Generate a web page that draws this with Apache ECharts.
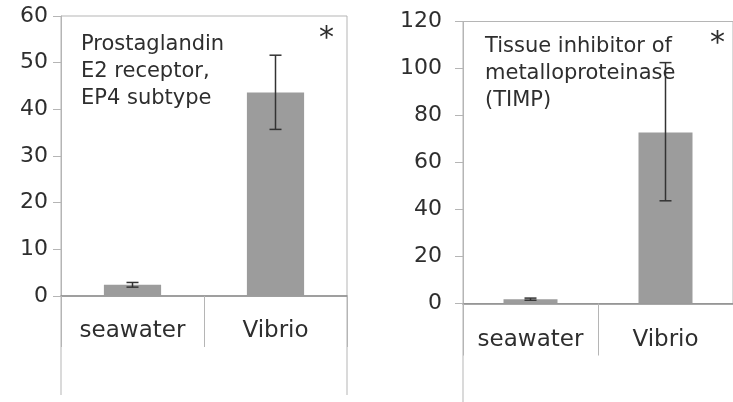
<!DOCTYPE html>
<html>
<head>
<meta charset="utf-8">
<script src="https://cdn.jsdelivr.net/npm/echarts@6/dist/echarts.min.js"></script>
<style>
  html, body { margin: 0; padding: 0; background: #fff; }
  #chart { width: 733px; height: 402px; }
</style>
</head>
<body>
<div id="chart"></div>
<script>
const categories = ['seawater', 'Vibrio']

// left panel: Prostaglandin E2 receptor, EP4 subtype
const ep4Means = [2.4, 43.6]
const ep4Low = [1.9, 35.7]
const ep4High = [2.9, 51.6]

// right panel: TIMP
const timpMeans = [1.8, 72.8]
const timpLow = [1.4, 43.7]
const timpHigh = [2.3, 102.5]

const ep4Ticks = { max: 60, interval: 10 }
const timpTicks = { max: 120, interval: 20 }

const chart = echarts.init(document.getElementById('chart'))

const g1 = { left: 61, top: 16, width: 286, height: 280 }
const g2 = { left: 463, top: 21.5, width: 277, height: 282 }

const FONT = 'DejaVu Sans'
const lineCol = '#b5b5b5'
const textCol = '#2e2e2e'

const errorSeries = (idx, low, high) => ({
  type: 'custom',
  xAxisIndex: idx,
  yAxisIndex: idx,
  data: categories.map((c, i) => [i, low[i], high[i]]),
  renderItem: (params, api) => {
    const lo = api.coord([api.value(0), api.value(1)])
    const hi = api.coord([api.value(0), api.value(2)])
    const w = 6
    const style = { stroke: '#333', lineWidth: 1.5 }
    return {
      type: 'group',
      children: [
        { type: 'line', shape: { x1: lo[0], y1: lo[1], x2: hi[0], y2: hi[1] }, style },
        { type: 'line', shape: { x1: hi[0] - w, y1: hi[1], x2: hi[0] + w, y2: hi[1] }, style },
        { type: 'line', shape: { x1: lo[0] - w, y1: lo[1], x2: lo[0] + w, y2: lo[1] }, style }
      ]
    }
  },
  z: 5
})

const xAxisFor = (idx, margin, tickLen) => ({
  type: 'category',
  gridIndex: idx,
  data: categories,
  axisLine: { lineStyle: { color: '#8c8c8c', width: 1.5 } },
  axisTick: { show: true, interval: 0, length: tickLen, lineStyle: { color: lineCol } },
  axisLabel: { interval: 0, hideOverlap: false, color: textCol, fontSize: 23, fontFamily: FONT, margin: margin }
})

const yAxisFor = (idx, ticks, margin) => ({
  type: 'value',
  gridIndex: idx,
  min: 0,
  max: ticks.max,
  interval: ticks.interval,
  axisLine: { show: true, lineStyle: { color: lineCol } },
  axisTick: { show: true, length: 8, lineStyle: { color: lineCol } },
  splitLine: { show: false },
  axisLabel: { color: textCol, fontSize: 22, fontFamily: FONT, margin: margin }
})

const barSeries = (idx, data) => ({
  type: 'bar',
  xAxisIndex: idx,
  yAxisIndex: idx,
  data: data,
  barWidth: '40%',
  itemStyle: { color: '#9c9c9c' }
})

const vline = (x, y1, y2) => ({
  type: 'line',
  shape: { x1: x, y1: y1, x2: x, y2: y2 },
  style: { stroke: lineCol, lineWidth: 1 },
  silent: true
})

const noteStyle = { color: textCol, fontSize: 21, fontFamily: FONT, fontWeight: 'normal', lineHeight: 27 }
const starStyle = { color: textCol, fontSize: 30, fontFamily: FONT, fontWeight: 'normal' }

chart.setOption({
  animation: false,
  backgroundColor: '#fff',
  title: [
    { text: 'Prostaglandin\nE2 receptor,\nEP4 subtype', left: 81, top: 31, padding: 0, textStyle: noteStyle },
    { text: 'Tissue inhibitor of\nmetalloproteinase\n(TIMP)', left: 485, top: 33, padding: 0, textStyle: noteStyle },
    { text: '*', left: 319, top: 24, padding: 0, textStyle: starStyle },
    { text: '*', left: 710, top: 29, padding: 0, textStyle: starStyle }
  ],
  grid: [
    Object.assign({ show: true, borderColor: lineCol, borderWidth: 1 }, g1),
    Object.assign({ show: true, borderColor: lineCol, borderWidth: 1 }, g2)
  ],
  xAxis: [xAxisFor(0, 24, 51), xAxisFor(1, 25, 52)],
  yAxis: [yAxisFor(0, ep4Ticks, 13), yAxisFor(1, timpTicks, 21)],
  graphic: [
    vline(g1.left, g1.top + g1.height, 395),
    vline(g1.left + g1.width, g1.top + g1.height, 395),
    vline(g2.left, g2.top + g2.height, 402)
  ],
  series: [
    barSeries(0, ep4Means),
    barSeries(1, timpMeans),
    errorSeries(0, ep4Low, ep4High),
    errorSeries(1, timpLow, timpHigh)
  ]
})
</script>
</body>
</html>
